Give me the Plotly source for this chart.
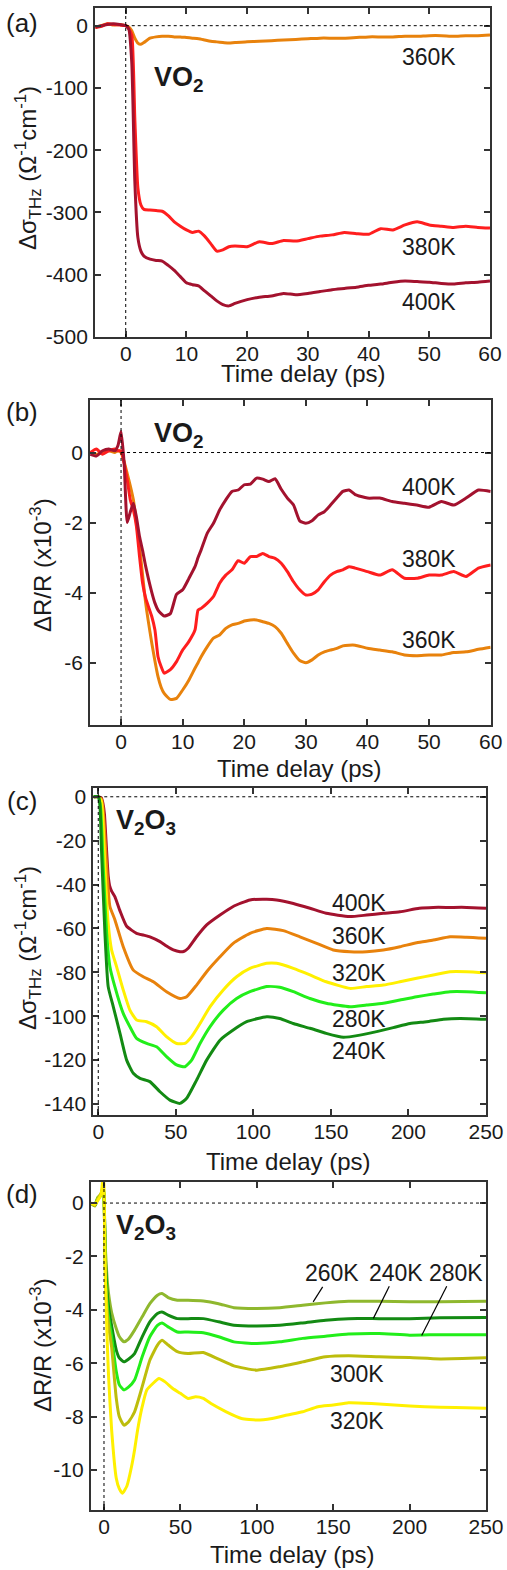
import plotly.graph_objects as go

W, H = 507, 1570

# ---------------- Panel (a): VO2 THz conductivity ----------------
t_a = [-5, -4, -3, -2, -1, 0, 0.5, 1, 1.5, 2, 2.5, 3, 4, 5, 6, 7, 8, 9, 10, 11, 12, 13, 14,
       15, 16, 17, 18, 20, 22, 24, 26, 28, 30, 32, 34, 36, 38, 40, 42, 44, 46, 48, 50, 52,
       54, 56, 58, 60]
a_360K = [-3, 0, 3, 1, 2, 0, -2, -8, -20, -28, -30, -27, -20, -18, -17, -17, -18, -18, -19,
          -20, -21, -23, -25, -26, -27, -28, -27, -26, -25, -24, -23, -22, -21, -20, -20, -20,
          -19, -18, -18, -18, -17, -17, -16, -16, -17, -16, -16, -15]
a_380K = [-3, -1, 3, 2, 1, 0, -5, -15, -150, -260, -288, -295, -296, -297, -298, -305, -315,
          -322, -328, -332, -330, -338, -350, -362, -360, -355, -354, -355, -347, -350, -345,
          -346, -342, -338, -336, -332, -334, -335, -326, -328, -320, -315, -320, -322, -324,
          -322, -324, -325]
a_400K = [-2, 0, 2, 3, 2, 0, -5, -60, -250, -340, -362, -370, -375, -377, -378, -385, -393,
          -403, -413, -416, -418, -426, -434, -442, -448, -450, -446, -440, -436, -434, -430,
          -432, -430, -427, -424, -422, -420, -417, -415, -412, -410, -411, -412, -414, -415,
          -413, -412, -410]

# ---------------- Panel (b): VO2 reflectivity ----------------
t_b = [-5, -4, -3, -2, -1, -0.5, 0, 0.5, 1, 1.5, 2, 2.5, 3, 3.5, 4, 5, 5.5, 6, 6.5, 7, 8, 9,
       10, 11, 12, 12.5, 13, 14, 15, 16, 17, 18, 19, 20, 21, 22, 23, 24, 25, 26, 27, 28, 29,
       30, 31, 32, 33, 34, 35, 36, 37, 38, 40, 42, 44, 46, 48, 50, 52, 54, 56, 58, 60]
b_400K = [-0.05, -0.1, 0.05, 0.1, 0.05, 0.2, 0.6, -0.3, -2.0, -1.7, -1.45, -1.85, -2.4, -2.8,
          -3.25, -4.0, -4.3, -4.5, -4.6, -4.67, -4.6, -4.05, -3.92, -3.6, -3.26, -3.0, -2.78,
          -2.3, -2.02, -1.64, -1.35, -1.11, -1.07, -0.92, -0.9, -0.73, -0.76, -0.83, -0.75,
          -1.05, -1.3, -1.5, -1.95, -2.02, -1.95, -1.78, -1.69, -1.5, -1.3, -1.11, -1.07, -1.2,
          -1.3, -1.3, -1.4, -1.45, -1.5, -1.56, -1.4, -1.5, -1.3, -1.07, -1.11]
b_380K = [0.0, 0.1, -0.05, 0.05, 0.1, 0.05, 0.05, -0.3, -0.78, -1.35, -1.64, -2.11, -2.97,
          -3.73, -4.16, -4.69, -5.07, -5.83, -6.11, -6.3, -6.2, -5.97, -5.64, -5.4, -5.07, -4.5,
          -4.45, -4.3, -4.11, -3.73, -3.5, -3.35, -3.09, -3.16, -2.97, -2.97, -2.88, -2.97,
          -3.02, -3.16, -3.4, -3.69, -3.92, -4.07, -4.04, -3.92, -3.69, -3.5, -3.4, -3.35,
          -3.26, -3.3, -3.4, -3.5, -3.35, -3.59, -3.59, -3.5, -3.5, -3.4, -3.54, -3.3, -3.21]
b_360K = [0.0, -0.05, 0.0, 0.05, 0.0, 0.05, 0.0, -0.26, -0.6, -0.95, -1.35, -2.0, -2.69, -3.5,
          -4.3, -5.45, -5.95, -6.4, -6.7, -6.88, -7.05, -7.02, -6.78, -6.5, -6.16, -6.0, -5.83,
          -5.54, -5.3, -5.21, -5.02, -4.92, -4.88, -4.81, -4.78, -4.78, -4.83, -4.88, -4.97,
          -5.16, -5.45, -5.73, -5.94, -6.0, -5.92, -5.78, -5.69, -5.64, -5.59, -5.52, -5.5,
          -5.5, -5.59, -5.64, -5.69, -5.78, -5.8, -5.78, -5.78, -5.71, -5.69, -5.62, -5.56]

# ---------------- Panel (c): V2O3 THz conductivity ----------------
t_c_400K = [-3, 0, 2, 3, 4, 5, 6.4, 7.5, 8.6, 10.7, 14, 18.3, 24.7, 29, 33.3, 39.8, 44, 48.4,
            52.7, 55, 58, 63.4, 69.9, 78.5, 87, 97.8, 108.6, 115, 125.8, 136.5, 147, 162, 173,
            183.8, 194.5, 207, 216, 226.8, 237.5, 250]
c_400K = [0, 0, -0.5, -3, -8, -20, -36, -41, -43, -45.5, -52, -59, -62.2, -63, -63.8, -66, -68,
          -69.8, -70.6, -70.5, -69, -63.8, -58.4, -53.9, -50, -47, -46.7, -47, -48.6, -50.8,
          -53.1, -54.6, -53.9, -53.1, -52.4, -50.8, -50.4, -50.4, -50.4, -50.8]
t_c_360K = [-3, 0, 2, 3, 4, 5.4, 7.5, 10.7, 16.1, 22.6, 29, 35.5, 44, 52.7, 57, 63.4, 69.9,
            78.5, 87, 97.8, 108.6, 119.3, 130, 140.8, 151.5, 162.3, 173, 183.8, 194.5, 205.3,
            216, 226.8, 237.5, 250]
c_360K = [0, 0, -1, -5, -15, -32, -50, -56, -68.3, -79, -82, -84.3, -88.8, -91.9, -91.1, -85.8,
          -79.7, -72.9, -66.8, -62.2, -60, -61, -63.8, -66.8, -69.8, -70.6, -70.6, -69.8, -68.3,
          -66.5, -65.3, -63.8, -64, -64.5]
t_c_320K = [-3, 0, 2, 3, 4.3, 6.4, 8.6, 11.8, 16.1, 20.4, 24.7, 31.2, 37.6, 44, 50.5, 55.9,
            60.2, 65.6, 72, 80.6, 89.2, 97.8, 108.6, 115, 125.8, 136.5, 147, 162.3, 173, 183.8,
            194.5, 205.3, 216, 226.8, 237.5, 250]
c_320K = [0, 0, -2, -10, -32, -57.7, -69.8, -77.4, -88, -97.2, -101.7, -102.5, -104.8, -109.3,
          -112.4, -112.4, -109.3, -103.3, -95.7, -88, -82, -78.2, -75.9, -75.9, -78.2, -81.2,
          -84.3, -87.3, -86.5, -85.8, -84.3, -82.7, -81.2, -79.7, -79.7, -80.2]
t_c_280K = [-3, 0, 1.5, 3.2, 5.4, 7.5, 10.7, 16.1, 20.4, 24.7, 31.2, 37.6, 44, 50.5, 55.9, 60.2,
            65.6, 72, 80.6, 89.2, 97.8, 108.6, 117, 125.8, 136.5, 147, 162.3, 173, 183.8,
            194.5, 205.3, 216, 226.8, 237.5, 250]
c_280K = [0, 0, -5, -32, -62.2, -77.4, -86.5, -98.7, -104.8, -110.1, -112.4, -113.9, -118.4,
          -122.2, -123, -120, -112.4, -104.8, -97.2, -91.9, -88.8, -86.5, -86.8, -88.8, -91.9,
          -94.1, -95.7, -94.9, -94.1, -92.6, -91.1, -89.9, -88.8, -88.8, -89.3]
t_c_240K = [-3, 0, 1, 2.1, 4.3, 6.4, 9.7, 14, 18.3, 22.6, 26.9, 33.3, 39.8, 46.2, 52.7, 57,
            63.4, 69.9, 78.5, 87, 95.7, 108.6, 117, 125.8, 136.5, 147, 158, 168.7, 179.5,
            190.2, 201, 211.7, 222.5, 233.2, 250]
c_240K = [0, 0, -3, -24.3, -62.2, -86.5, -95.7, -107.8, -120, -126, -128.3, -129.8, -134.4,
          -138.2, -139.7, -137.4, -129.1, -120, -110.9, -106.3, -102.5, -100.2, -101, -103.3,
          -105.5, -107.8, -109.6, -108.6, -107, -105.2, -103.3, -102.5, -101.4, -101, -101.4]

# ---------------- Panel (d): V2O3 reflectivity ----------------
t_d = [-8.5, -6, -4, -2, -1, -0.5, 0, 0.5, 1, 2, 3, 5, 8, 10, 13, 16, 20, 25, 30, 35, 38, 42,
       48, 55, 65, 75, 85, 100, 115, 130, 145, 160, 180, 200, 220, 250]
d_260K = [0, -0.1, 0.2, 0.3, 0.45, 0.5, 0.3, -0.8, -1.8, -2.8, -3.4, -4.1, -4.7, -5.0, -5.2,
          -5.1, -4.76, -4.26, -3.77, -3.45, -3.39, -3.54, -3.64, -3.64, -3.67, -3.77, -3.92,
          -3.95, -3.92, -3.83, -3.74, -3.68, -3.68, -3.7, -3.7, -3.68]
d_240K = [0, -0.1, 0.15, 0.3, 0.5, 0.55, 0.3, -1.0, -2.2, -3.3, -3.9, -4.6, -5.5, -5.8, -5.95,
          -5.85, -5.64, -5.01, -4.45, -4.14, -4.08, -4.2, -4.33, -4.33, -4.33, -4.45, -4.58,
          -4.61, -4.58, -4.49, -4.39, -4.33, -4.33, -4.33, -4.3, -4.29]
d_280K = [0, -0.05, 0.2, 0.3, 0.5, 0.6, 0.3, -1.2, -2.6, -3.7, -4.3, -5.0, -6.3, -6.8, -7.0,
          -6.9, -6.63, -5.76, -5.01, -4.58, -4.49, -4.64, -4.83, -4.83, -4.86, -5.01, -5.2,
          -5.26, -5.2, -5.07, -4.99, -4.91, -4.89, -4.95, -4.93, -4.93]
d_300K = [0, -0.1, 0.2, 0.35, 0.55, 0.6, 0.3, -1.4, -3.0, -4.0, -4.6, -5.4, -7.3, -8.0, -8.32,
          -8.2, -7.82, -6.88, -5.89, -5.32, -5.14, -5.32, -5.57, -5.64, -5.6, -5.85, -6.1,
          -6.26, -6.13, -5.95, -5.76, -5.72, -5.76, -5.79, -5.84, -5.8]
t_d_320K = [-8.5, -6, -4, -2, -1, -0.5, 0, 0.5, 1, 2, 3, 5, 8, 10, 12, 15, 18, 20, 22, 25, 28,
            32, 36, 40, 45, 50, 55, 60, 65, 70, 80, 90, 100, 110, 120, 130, 140, 150, 160, 175,
            190, 210, 230, 250]
d_320K = [0, -0.05, 0.1, 0.3, 0.8, 1.2, 0.6, -1.5, -3.0, -5.0, -6.5, -8.5, -10.3, -10.7,
          -10.87, -10.6, -9.88, -9.25, -8.5, -7.63, -7.0, -6.76, -6.57, -6.7, -6.95, -7.13,
          -7.32, -7.26, -7.32, -7.51, -7.82, -8.07, -8.13, -8.07, -7.94, -7.82, -7.63, -7.57,
          -7.48, -7.51, -7.57, -7.63, -7.66, -7.69]

# leader lines for (d) labels: (x0, y0, x1, y1)
d_leaders = [(143.1, -3.14, 136.9, -3.70), (186.7, -3.12, 176.3, -4.32),
             (224.3, -3.12, 207.9, -4.96)]

# tick values / labels
xt_ab = [0, 10, 20, 30, 40, 50, 60]
xt_cd = [0, 50, 100, 150, 200, 250]
yt_a = [-500, -400, -300, -200, -100, 0]
yt_b = [-6, -4, -2, 0]
yt_c = [-140, -120, -100, -80, -60, -40, -20, 0]
yt_d = [-10, -8, -6, -4, -2, 0]

# colours
C400 = "#A3122E"
C380 = "#FF1E1E"
C360 = "#E8820C"
C320 = "#FFF000"
C280 = "#22EE1A"
C240 = "#138A13"
C260 = "#8FB82E"
C300 = "#BDBD0C"

FONT = "Liberation Sans, Arial, Helvetica, sans-serif"
TXT = "#1a1a1a"


def px(x):
    return x / W


def py(y):
    return 1 - y / H


fig = go.Figure()


def add(t, v, color, ax):
    fig.add_trace(go.Scatter(x=t, y=v, mode="lines",
                             line=dict(color=color, width=3, shape="spline", smoothing=0.5),
                             xaxis="x" + ax, yaxis="y" + ax, showlegend=False,
                             hoverinfo="skip"))


add(t_a, a_360K, C360, "")
add(t_a, a_380K, C380, "")
add(t_a, a_400K, C400, "")
add(t_b, b_360K, C360, "2")
add(t_b, b_380K, C380, "2")
add(t_b, b_400K, C400, "2")
add(t_c_400K, c_400K, C400, "3")
add(t_c_360K, c_360K, C360, "3")
add(t_c_320K, c_320K, C320, "3")
add(t_c_280K, c_280K, C280, "3")
add(t_c_240K, c_240K, C240, "3")
add(t_d, d_260K, C260, "4")
add(t_d, d_240K, C240, "4")
add(t_d, d_280K, C280, "4")
add(t_d, d_300K, C300, "4")
add(t_d_320K, d_320K, C320, "4")

panels = [
    # name, xdom(px), ydom(px top,bottom), xrange, yrange, xticks, yticks
    ("", (95, 490), (8, 337), [-5.06, 60], [-500, 28.4], xt_ab, yt_a),
    ("2", (90, 490.7), (400, 725), [-5.04, 60], [-7.78, 1.5], xt_ab, yt_b),
    ("3", (93.3, 486), (788, 1115), [-3.2, 250], [-145, 4], xt_cd, yt_c),
    ("4", (90.7, 486), (1181.7, 1510), [-8.7, 250], [-11.5, 0.8], xt_cd, yt_d),
]

axis_common = dict(showline=True, linecolor="#333333", linewidth=1.8, mirror="allticks",
                   ticks="inside", ticklen=6, tickwidth=1.5, tickcolor="#333333",
                   showgrid=False, zeroline=False, automargin=False,
                   tickfont=dict(family=FONT, size=21, color=TXT))

layout = dict(width=W, height=H, margin=dict(l=0, r=0, t=0, b=0, pad=0),
              paper_bgcolor="white", plot_bgcolor="white", autosize=False)

shapes = []
for name, xd, yd, xr, yr, xt, yt in panels:
    layout["xaxis" + name] = dict(axis_common, domain=[px(xd[0]), px(xd[1])], range=xr,
                                  tickvals=xt, ticktext=[str(v) for v in xt],
                                  anchor="y" + name, ticklabelstandoff=-3)
    layout["yaxis" + name] = dict(axis_common, domain=[py(yd[1]), py(yd[0])], range=yr,
                                  tickvals=yt, ticktext=[str(v) for v in yt],
                                  anchor="x" + name, ticklabelstandoff=1)
    xref = "x" + name
    yref = "y" + name
    shapes.append(dict(type="line", xref=xref, yref=yref, x0=0, x1=xr[1], y0=0, y1=0,
                       line=dict(color="black", width=1, dash="dot")))
    shapes.append(dict(type="line", xref=xref, yref=yref, x0=0, x1=0, y0=yr[0], y1=yr[1],
                       line=dict(color="black", width=1, dash="dot")))

for (x0, y0, x1, y1) in d_leaders:
    shapes.append(dict(type="line", xref="x4", yref="y4", x0=x0, y0=y0, x1=x1, y1=y1,
                       line=dict(color="black", width=1.2)))

layout["shapes"] = shapes

ann = []


def paper_text(text, x, y, size, xanchor="center", angle=0):
    ann.append(dict(text=text, x=px(x), y=py(y), xref="paper", yref="paper",
                    xanchor=xanchor, yanchor="middle", showarrow=False, textangle=angle,
                    font=dict(family=FONT, size=size, color=TXT)))


def data_text(text, x, y, ax):
    ann.append(dict(text=text, x=x, y=y, xref="x" + ax, yref="y" + ax, xanchor="center",
                    yanchor="middle", showarrow=False,
                    font=dict(family=FONT, size=23, color=TXT)))


# panel letters
for lab, yy in [("(a)", 23), ("(b)", 412), ("(c)", 801), ("(d)", 1194)]:
    paper_text(lab, 22, yy, 26)

# material labels
paper_text("<b>VO<sub>2</sub></b>", 152, 79, 27, xanchor="left")
paper_text("<b>VO<sub>2</sub></b>", 152, 435, 27, xanchor="left")
paper_text("<b>V<sub>2</sub>O<sub>3</sub></b>", 114, 822, 27, xanchor="left")
paper_text("<b>V<sub>2</sub>O<sub>3</sub></b>", 114, 1227, 27, xanchor="left")

# axis titles
for xx, yy in [(303, 374), (299, 768), (288, 1161), (292, 1554)]:
    paper_text("Time delay (ps)", xx, yy, 24)
paper_text("Δσ<sub>THz</sub> (Ω<sup>-1</sup>cm<sup>-1</sup>)", 28, 168, 24, angle=-90)
paper_text("ΔR/R (x10<sup>-3</sup>)", 41, 565, 24, angle=-90)
paper_text("Δσ<sub>THz</sub> (Ω<sup>-1</sup>cm<sup>-1</sup>)", 28, 948, 24, angle=-90)
paper_text("ΔR/R (x10<sup>-3</sup>)", 41, 1345, 24, angle=-90)

# temperature labels
data_text("360K", 50, -50, "")
data_text("380K", 50, -355, "")
data_text("400K", 50, -444, "")
data_text("400K", 50, -0.99, "2")
data_text("380K", 50, -3.03, "2")
data_text("360K", 50, -5.34, "2")
data_text("400K", 167.8, -48.2, "3")
data_text("360K", 167.8, -63.4, "3")
data_text("320K", 167.8, -80.1, "3")
data_text("280K", 167.8, -101.3, "3")
data_text("240K", 167.8, -115.8, "3")
data_text("260K", 149.2, -2.63, "4")
data_text("240K", 191.0, -2.63, "4")
data_text("280K", 230.4, -2.63, "4")
data_text("300K", 165.9, -6.41, "4")
data_text("320K", 165.9, -8.16, "4")

layout["annotations"] = ann
fig.update_layout(**layout)
fig.write_html("out.html")
